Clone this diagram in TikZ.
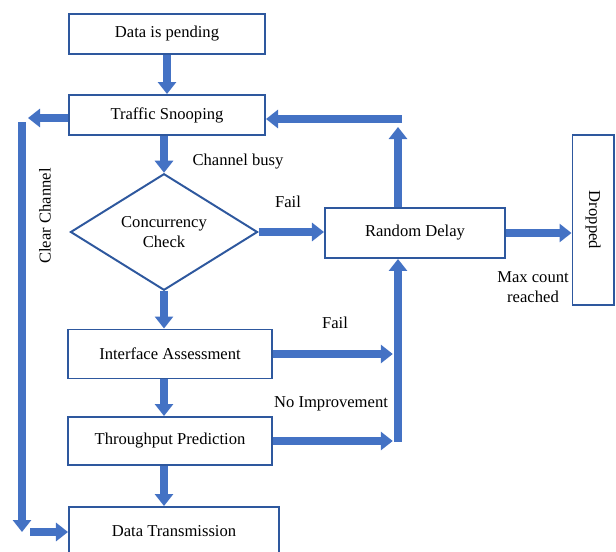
\documentclass[tikz,border=0pt]{standalone}
\usepackage{fontspec}
\setmainfont{Liberation Serif}
\usetikzlibrary{arrows.meta,shapes.geometric}
\definecolor{boxblue}{RGB}{46,88,158}
\definecolor{arrowblue}{RGB}{68,114,196}

\begin{document}
\begin{tikzpicture}[x=0.025cm, y=-0.025cm,
        box/.style={rectangle, draw=boxblue, line width=1.4pt, minimum width=4.9cm, minimum height=1cm, text centered, font=\fontsize{11.8}{14}\selectfont},
        decision/.style={diamond, draw=boxblue, line width=1.4pt, minimum width=4.675cm, minimum height=2.8cm, inner sep=0pt, align=center, font=\fontsize{11.8}{14}\selectfont},
        arrow/.style={-{Triangle[width=0.45cm,length=0.3cm]}, draw=arrowblue, line width=0.22cm},
        note/.style={font=\fontsize{11.8}{14}\selectfont, align=center}
    ]
    \useasboundingbox (0,0) rectangle (616,551);

    % Main column
    \node[box] (pending) at (167, 34) {Data is pending};
    \node[box] (snoop) at (167, 115) {Traffic Snooping};
    \node[decision] (check) at (164, 232) {Concurrency\\Check};
    \node[box, minimum width=5.075cm, minimum height=1.225cm] (assess) at (170, 354) {Interface Assessment};
    \node[box, minimum width=5.075cm, minimum height=1.2cm] (predict) at (170, 441) {Throughput Prediction};
    \node[box, minimum width=5.25cm, minimum height=1.2cm] (transmit) at (174, 531) {Data Transmission};

    \draw[arrow] (pending) -- (snoop);
    \draw[arrow] (snoop.south -| check.north) -- (check.north);
    \draw[arrow] (check.south) -- (check.south |- assess.north);
    \draw[arrow] (assess.south -| check.south) -- (predict.north -| check.south);
    \draw[arrow] (predict.south -| check.south) -- (transmit.north -| check.south);
    \node[note] (busy) at (238, 162) {Channel busy};

    % Random delay and drop
    \node[box, minimum width=4.5cm, minimum height=1.25cm] (delay) at (415, 233) {Random Delay};
    \node[box, rotate=-90, minimum width=4.25cm, minimum height=1.025cm] (dropped) at (593, 220) {Dropped};

    \draw[arrow] (check.east) -- (check.east -| delay.west);
    \node[note] (fail1) at (288, 202) {Fail};
    \draw[arrow] (delay.east) -- (delay.east -| dropped.south);
    \node[note] (maxcount) at (533, 287) {Max count\\reached};

    % Retry loop
    \coordinate (back) at (398, 119);
    \draw[arrow, shorten >=0.2cm] (delay.north -| back) -- (back);
    \draw[arrow] ([xshift=0.1cm]back) -- (back -| snoop.east);

    % Failures back to delay
    \coordinate (join) at (398, 442);
    \draw[arrow, shorten >=0.13cm] (assess.east) -- (assess.east -| join);
    \draw[arrow, shorten >=0.13cm] (predict.east) -- (predict.east -| join);
    \draw[arrow] (join) -- (join |- delay.south);
    \node[note] (fail2) at (335, 323) {Fail};
    \node[note] (noimp) at (331, 404) {No Improvement};

    % Clear channel
    \coordinate (clrtop) at (22, 118);
    \coordinate (clrbot) at (22, 532);
    \draw[arrow, shorten >=0.15cm] (snoop.west |- clrtop) -- (clrtop);
    \draw[arrow] ([yshift=-0.1cm]clrtop) -- (clrbot);
    \draw[arrow] ([xshift=0.2cm]clrbot) -- (clrbot -| transmit.west);
    \node[note, rotate=90] (clear) at (45, 216) {Clear Channel};

    \end{tikzpicture}
\end{document}
